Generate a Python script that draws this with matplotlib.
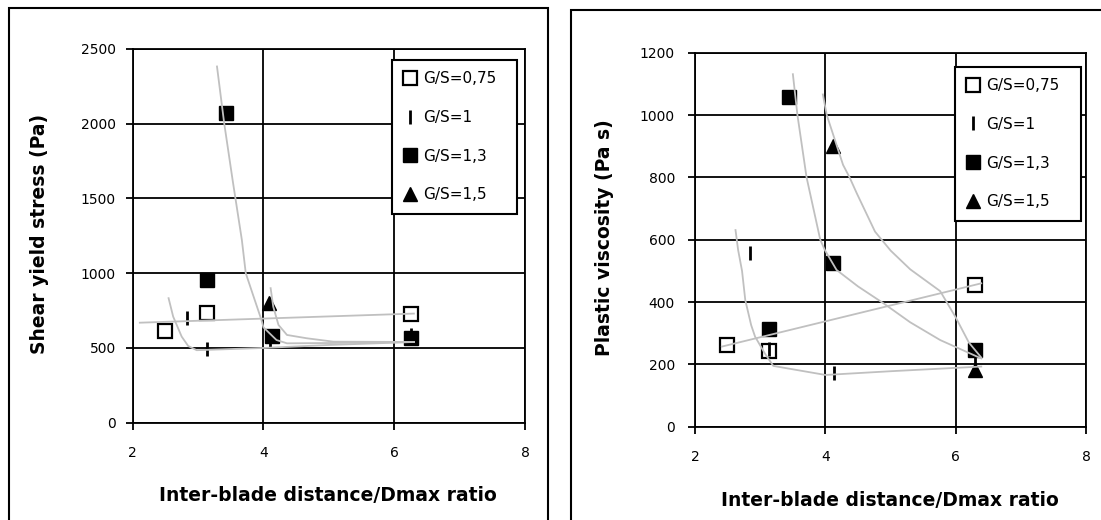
import matplotlib
matplotlib.use("Agg")
import matplotlib.pyplot as plt
from matplotlib.patches import Rectangle
from matplotlib.lines import Line2D

# ---------------- data ----------------
x_ticks = [2, 4, 6, 8]
series_labels = ["G/S=0,75", "G/S=1", "G/S=1,3", "G/S=1,5"]

# Left panel: shear yield stress (Pa)
ys_x_075 = [2.49, 3.14, 6.26]
ys_y_075 = [615, 737, 726]
ys_x_1 = [2.83, 3.14, 4.10, 6.26]
ys_y_1 = [699, 492, 545, 585]
ys_x_13 = [3.14, 3.43, 4.13, 6.26]
ys_y_13 = [952, 2071, 582, 569]
ys_x_15 = [4.09]
ys_y_15 = [799]

ys_fit075_x = [2.11, 6.30]
ys_fit075_y = [669, 730]
ys_fit1_x = [2.55, 2.62, 2.75, 2.85, 2.98, 4.0, 5.0, 6.30]
ys_fit1_y = [833, 710, 576, 513, 485, 500, 520, 540]
ys_fit13_x = [3.29, 3.40, 3.53, 3.67, 3.73, 3.85, 3.97, 4.00, 4.20, 4.36, 5.0, 6.30]
ys_fit13_y = [2383, 2004, 1620, 1223, 1000, 843, 687, 638, 553, 531, 533, 540]
ys_fit15_x = [4.11, 4.15, 4.23, 4.36, 4.66, 5.07, 6.30]
ys_fit15_y = [900, 776, 654, 587, 565, 542, 540]

# Right panel: plastic viscosity (Pa s)
pv_x_075 = [2.49, 3.14, 6.29]
pv_y_075 = [262, 244, 455]
pv_x_1 = [2.84, 3.14, 4.13, 6.29]
pv_y_1 = [558, 250, 172, 211]
pv_x_13 = [3.14, 3.44, 4.11, 6.29]
pv_y_13 = [315, 1058, 526, 246]
pv_x_15 = [4.11, 6.29]
pv_y_15 = [901, 182]

pv_fit075_x = [2.41, 6.39]
pv_fit075_y = [257, 460]
pv_fit1_x = [2.62, 2.66, 2.72, 2.77, 2.86, 2.92, 3.07, 3.20, 4.0, 5.0, 6.39]
pv_fit1_y = [631, 567, 500, 406, 326, 289, 235, 195, 166, 178, 193]
pv_fit13_x = [3.50, 3.57, 3.71, 3.92, 3.99, 4.17, 4.50, 4.89, 5.30, 5.76, 6.39]
pv_fit13_y = [1131, 1000, 800, 600, 567, 503, 450, 396, 335, 278, 219]
pv_fit15_x = [3.96, 4.02, 4.27, 4.37, 4.48, 4.76, 5.00, 5.30, 5.76, 6.00, 6.20, 6.39]
pv_fit15_y = [1066, 1000, 840, 800, 749, 626, 565, 505, 435, 350, 270, 222]

# ---------------- style ----------------
plt.rcParams['font.family'] = ['DejaVu Sans']
GRAY = '#c0c0c0'
LW = 1.3

fig = plt.figure(figsize=(11.01, 5.2), dpi=100)

# outer frames
W, H = 1101.0, 520.0


def frame(x0, y0, x1, y1):
    fig.patches.append(Rectangle((x0 / W, 1 - y1 / H), (x1 - x0) / W, (y1 - y0) / H,
                                 transform=fig.transFigure, fill=False,
                                 edgecolor='black', linewidth=1.5))


frame(8.8, 8.3, 548, 530)
frame(571, 10, 1112, 530)

axL = fig.add_axes([132.6 / W, 1 - 422.7 / H, 392.5 / W, 373.7 / H])
axR = fig.add_axes([695.1 / W, 1 - 426.7 / H, 391.1 / W, 374.0 / H])


def style(ax, yticks, ymax, ypad):
    ax.set_xlim(2, 8)
    ax.set_ylim(0, ymax)
    ax.set_xticks(x_ticks)
    ax.set_yticks(yticks)
    ax.grid(True, color='black', linewidth=LW)
    ax.set_axisbelow(True)
    for s in ax.spines.values():
        s.set_color('black')
        s.set_linewidth(LW)
    ax.tick_params(axis='y', direction='out', length=5, width=LW, pad=ypad, labelsize=10)
    ax.tick_params(axis='x', direction='out', length=5, width=LW, pad=12, labelsize=10)


def draw(ax, xs, ys, fits, legend_box):
    mk = [dict(marker='s', markersize=9.5, markerfacecolor='white', markeredgecolor='black', markeredgewidth=1.6),
          dict(marker='|', markersize=10, markeredgecolor='black', markeredgewidth=2.0),
          dict(marker='s', markersize=9.5, markerfacecolor='black', markeredgecolor='black', markeredgewidth=1.0),
          dict(marker='^', markersize=10, markerfacecolor='black', markeredgecolor='black', markeredgewidth=1.0)]
    handles = []
    for i in range(4):
        ax.plot(xs[i], ys[i], linestyle='none', zorder=3, clip_on=False, **mk[i])
        handles.append(Line2D([], [], linestyle='none', **mk[i]))
    for fx, fy in fits:
        ax.plot(fx, fy, color=GRAY, linewidth=1.3, zorder=4)
    x0, y0, w, h = legend_box
    leg = ax.legend(handles, series_labels, loc='upper left', bbox_to_anchor=(x0, y0, w, h),
                    mode='expand', borderaxespad=0, frameon=True, fancybox=False,
                    fontsize=11, labelspacing=1.55, handlelength=0.9, handletextpad=0.4,
                    borderpad=0.75)
    fr = leg.get_frame()
    fr.set_edgecolor('black')
    fr.set_linewidth(1.5)
    fr.set_alpha(1)
    leg.set_zorder(5)


style(axL, [0, 500, 1000, 1500, 2000, 2500], 2500, 7)
style(axR, [0, 200, 400, 600, 800, 1000, 1200], 1200, 9.5)

draw(axL, [ys_x_075, ys_x_1, ys_x_13, ys_x_15], [ys_y_075, ys_y_1, ys_y_13, ys_y_15],
     [(ys_fit075_x, ys_fit075_y), (ys_fit1_x, ys_fit1_y), (ys_fit13_x, ys_fit13_y), (ys_fit15_x, ys_fit15_y)],
     (0.660, 0.562, 0.319, 0.4086))
draw(axR, [pv_x_075, pv_x_1, pv_x_13, pv_x_15], [pv_y_075, pv_y_1, pv_y_13, pv_y_15],
     [(pv_fit075_x, pv_fit075_y), (pv_fit1_x, pv_fit1_y), (pv_fit13_x, pv_fit13_y), (pv_fit15_x, pv_fit15_y)],
     (0.6645, 0.551, 0.3212, 0.4116))

lab = dict(fontsize=13.5, fontweight='bold')
axL.set_ylabel("Shear yield stress (Pa)", va='center', **lab)
axL.yaxis.set_label_coords(-0.237, 0.506)
axL.set_xlabel("Inter-blade distance/Dmax ratio", va='center', **lab)
axL.xaxis.set_label_coords(0.498, -0.1935)

axR.set_ylabel("Plastic viscosity (Pa s)", va='center', **lab)
axR.yaxis.set_label_coords(-0.2317, 0.5045)
axR.set_xlabel("Inter-blade distance/Dmax ratio", va='center', **lab)
axR.xaxis.set_label_coords(0.497, -0.196)

fig.savefig("out.png", dpi=100)
